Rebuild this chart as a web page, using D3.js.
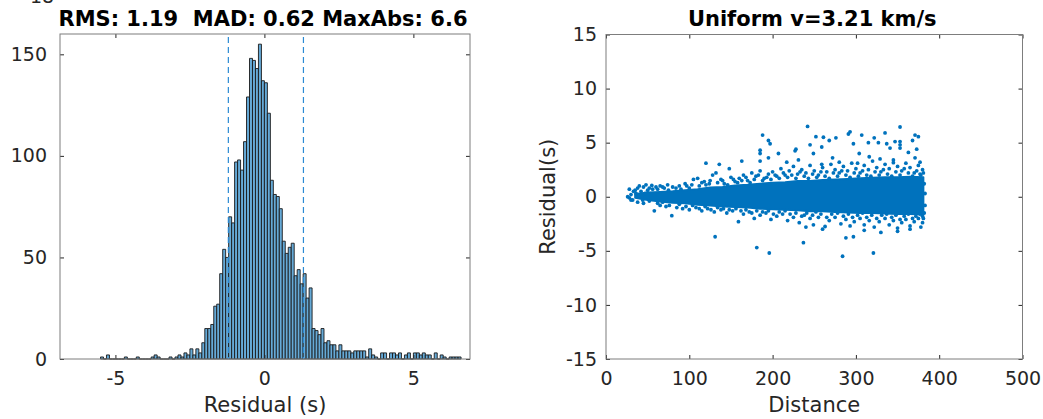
<!DOCTYPE html>
<html>
<head>
<meta charset="utf-8">
<script src="https://cdn.jsdelivr.net/npm/d3@7/dist/d3.min.js"></script>
<style>
  body { margin: 0; background: #fff; }
  text { font-family: "DejaVu Sans", sans-serif; white-space: pre; }
  .ax line { stroke: #262626; }
  .ax text { fill: #262626; font-size: 19px; }
</style>
</head>
<body>
<svg id="fig" width="1043" height="419"></svg>
<script>
// ---- data: histogram of residuals (bin width 0.1, first bin starts at -5.5)
const histStart = -5.5
const binWidth = 0.1
const histCounts = [
  1, 0, 2, 0, 0, 0, 0, 0, 1, 0,      // -5.5 .. -4.6
  0, 0, 1, 0, 0, 0, 0, 1, 2, 1,      // -4.5 .. -3.6
  0, 0, 0, 1, 0, 1, 2, 1, 3, 2,      // -3.5 .. -2.6
  5, 2, 5, 3, 8, 15, 15, 17, 26, 27, // -2.5 .. -1.6
  42, 54, 50, 70, 67, 97, 98, 93, 107, 129, // -1.5 .. -0.6
  148, 147, 143, 155, 137, 136, 121, 88, 81, 80, // -0.5 .. 0.4
  74, 58, 52, 55, 57, 41, 44, 37, 42, 30, // 0.5 .. 1.4
  35, 15, 14, 12, 15, 8, 9, 7, 7, 4,  // 1.5 .. 2.4
  7, 4, 4, 4, 3, 4, 4, 4, 4, 1,      // 2.5 .. 3.4
  5, 2, 1, 0, 3, 3, 0, 3, 3, 2,      // 3.5 .. 4.4
  3, 0, 2, 3, 0, 3, 3, 2, 3, 2,      // 4.5 .. 5.4
  2, 0, 3, 0, 2, 1, 0, 1, 1, 1,      // 5.5 .. 6.4
  1                                  // 6.5
]
const spreadLines = [-1.21, 1.31]
const histTitle = "RMS: 1.19  MAD: 0.62 MaxAbs: 6.6"
const histXTicks = [-5, 0, 5]
const histYTicks = [0, 50, 100, 150]

// ---- data: residual vs distance
const scatterTitle = "Uniform v=3.21 km/s"
const scatterXTicks = [0, 100, 200, 300, 400, 500]
const scatterYTicks = [-15, -10, -5, 0, 5, 10, 15]
// dense core of the cloud (distance, upper and lower residual edge)
const coreDist  = [35, 50, 65, 80, 95, 110, 125, 140, 155, 170, 185, 200, 215, 230, 245, 260, 275, 290, 305, 320, 335, 350, 365, 381]
const coreUpper = [0.25, 0.4, 0.45, 0.5, 0.6, 0.7, 0.85, 0.9, 1.05, 1.1, 1.2, 1.3, 1.35, 1.45, 1.45, 1.55, 1.6, 1.65, 1.7, 1.75, 1.8, 1.8, 1.85, 1.8]
const coreLower = [-0.1, -0.3, -0.45, -0.55, -0.6, -0.75, -0.8, -0.9, -0.95, -1.0, -1.1, -1.15, -1.2, -1.25, -1.35, -1.35, -1.4, -1.45, -1.5, -1.5, -1.55, -1.6, -1.6, -1.65]
// scattered points around the core edges
const fringePoints = [
  [26, 0.0], [28, 0.7], [28, -0.1], [30, 0.2], [32, -0.3], [33, 0.5], [35, 0.6], [36, 0.3], [38, 0.8], [40, 1.0],
  [42, 0.5], [44, -0.3], [45, 0.9], [47, 0.3], [48, 1.1], [50, 0.6], [52, 0.8], [55, 1.05], [56, 0.7], [60, 0.9],
  [65, 1.0], [70, 0.8], [75, 0.6], [80, 0.9], [88, 1.0], [95, 1.2], [100, 0.8], [105, 1.6], [110, 1.7], [115, 1.3],
  [120, 1.1], [125, 1.5], [128, 2.0], [132, 2.2], [138, 1.6], [142, 1.2], [150, 1.8], [155, 1.4], [160, 1.7], [165, 2.0],
  [170, 1.5], [175, 2.2], [180, 1.9], [185, 2.4], [190, 1.7], [195, 2.1], [200, 2.3], [205, 1.9], [210, 2.6], [215, 2.0],
  [220, 2.4], [225, 2.8], [230, 2.1], [235, 2.5], [240, 2.2], [245, 2.9], [250, 2.4], [255, 2.0], [260, 2.7], [265, 2.3],
  [270, 3.0], [275, 2.5], [280, 2.2], [285, 2.8], [290, 2.4], [295, 3.1], [300, 2.6], [305, 2.2], [310, 2.9], [315, 2.5],
  [320, 3.3], [325, 2.7], [330, 2.3], [335, 3.0], [340, 2.6], [345, 3.4], [350, 2.8], [355, 2.4], [360, 3.1], [365, 2.7],
  [370, 2.2], [375, 2.9], [378, 2.0], [380, 2.5],
  [62, 0.7], [68, 0.9], [74, 1.1], [84, 0.8], [90, 0.7], [97, 1.0], [103, 1.1], [112, 1.0], [118, 1.4], [124, 1.2],
  [134, 1.3], [140, 1.5], [146, 1.1], [153, 1.6], [158, 1.3], [163, 1.5], [168, 1.8], [173, 1.3], [178, 1.6], [183, 2.0],
  [188, 1.5], [193, 1.8], [198, 1.6], [203, 2.0], [208, 1.7], [213, 2.2], [218, 1.8], [223, 2.0], [228, 1.7], [233, 2.3],
  [238, 1.9], [243, 1.7], [248, 2.1], [253, 1.8], [258, 2.3], [263, 1.9], [268, 1.7], [273, 2.2], [278, 1.9], [283, 2.4],
  [288, 2.0], [293, 1.8], [298, 2.2], [303, 1.9], [308, 2.4], [313, 2.0], [318, 1.9], [323, 2.3], [328, 2.0], [333, 2.5],
  [338, 2.1], [343, 1.9], [348, 2.3], [353, 2.0], [358, 2.6], [363, 2.2], [368, 1.9], [373, 2.4], [377, 2.1], [381, 2.2],
  [30, -0.3], [38, -0.5], [45, -0.6], [52, -0.4], [58, -1.3], [65, -0.8], [72, -0.9], [79, -1.75], [85, -1.0], [92, -1.1],
  [100, -1.2], [108, -1.0], [115, -1.3], [122, -1.1], [130, -1.4], [138, -1.2], [145, -1.5], [152, -1.3], [159, -2.3], [165, -1.6],
  [172, -1.4], [178, -2.0], [185, -1.7], [192, -1.5], [198, -2.1], [205, -1.8], [212, -1.6], [218, -2.2], [225, -1.9], [232, -2.4],
  [238, -1.7], [245, -2.0], [249, -2.6], [255, -1.9], [263, -2.75], [268, -2.2], [275, -1.9], [282, -2.5], [288, -2.1], [293, -2.7],
  [298, -2.3], [305, -2.0], [310, -2.6], [316, -2.2], [322, -2.8], [328, -2.3], [335, -2.0], [340, -2.6], [345, -2.2], [350, -2.9],
  [355, -2.4], [360, -2.1], [365, -2.7], [370, -2.3], [375, -2.0], [380, -1.8], [382, -1.5], [382, 1.2], [383, 0.3], [383, -0.8],
  [62, -0.6], [68, -0.5], [76, -0.8], [88, -0.7], [96, -0.9], [104, -0.8], [112, -1.1], [119, -0.9], [126, -1.2], [134, -1.0],
  [141, -1.1], [148, -1.2], [156, -1.1], [162, -1.3], [168, -1.2], [175, -1.5], [181, -1.3], [188, -1.4], [195, -1.3], [201, -1.6],
  [208, -1.4], [215, -1.3], [221, -1.6], [228, -1.5], [235, -1.8], [241, -1.5], [248, -1.7], [252, -1.4], [258, -1.6], [265, -1.9],
  [271, -1.6], [278, -1.5], [285, -1.8], [291, -1.6], [296, -1.9], [302, -1.7], [308, -1.5], [313, -1.9], [319, -1.7], [325, -2.0],
  [331, -1.7], [337, -1.6], [343, -1.9], [348, -1.7], [353, -2.1], [358, -1.8], [363, -1.6], [368, -2.0], [372, -1.8], [377, -1.6],
  [381, -2.0]
]
const outlierPoints = [
  [120, 3.1], [136, 3.0], [148, 2.6], [163, 3.3], [185, 3.3], [185, 4.0], [185, 4.3], [188, 5.7], [195, 5.2], [197, 4.9],
  [195, 3.6], [207, 4.0], [217, 3.2], [227, 4.25], [228, 4.4], [231, 3.4], [242, 6.5], [245, 4.8], [249, 4.0], [252, 5.55],
  [259, 4.6], [259, 3.0], [261, 5.5], [268, 5.2], [272, 3.6], [276, 5.45], [280, 3.2], [291, 5.8], [293, 6.0], [297, 4.9],
  [302, 3.1], [304, 4.0], [307, 5.7], [315, 5.0], [316, 3.7], [322, 5.45], [327, 5.0], [329, 3.5], [335, 5.9], [337, 4.9],
  [341, 4.5], [345, 3.15], [347, 5.1], [353, 6.45], [353, 5.1], [353, 4.8], [353, 4.5], [363, 4.1], [368, 5.2], [371, 5.7],
  [373, 4.4], [371, 3.6], [375, 5.55], [377, 3.2],
  [131, -3.7], [181, -4.7], [196, -5.2], [237, -4.25], [284, -5.5], [288, -3.8], [297, -3.7], [321, -5.2], [350, -3.2], [260, -3.0],
  [310, -3.1], [240, -2.8], [330, -3.3], [365, -3.0], [378, -2.8], [380, -2.4]
]

const svg = d3.select("#fig")
const blue = "#0072BD"
const plain = d => String(d)

// MATLAB style box with inward ticks on all four sides
function drawFrame(xScale, yScale, xTicks, yTicks, yPad, xLabel, yLabel, title) {
  const [left, right] = xScale.range()
  const [bottom, top] = yScale.range()
  const g = svg.append("g").attr("class", "ax")

  g.append("g").attr("transform", `translate(0,${bottom})`)
    .call(d3.axisBottom(xScale).tickValues(xTicks).tickSizeInner(-4).tickSizeOuter(0).tickPadding(13).tickFormat(plain))
  g.append("g").attr("transform", `translate(0,${top})`)
    .call(d3.axisTop(xScale).tickValues(xTicks).tickSizeInner(-4).tickSizeOuter(0).tickFormat(""))
  g.append("g").attr("transform", `translate(${left},0)`)
    .call(d3.axisLeft(yScale).tickValues(yTicks).tickSizeInner(-4).tickSizeOuter(0).tickPadding(yPad).tickFormat(plain))
  g.append("g").attr("transform", `translate(${right},0)`)
    .call(d3.axisRight(yScale).tickValues(yTicks).tickSizeInner(-4).tickSizeOuter(0).tickFormat(""))
  g.selectAll(".domain").remove()
  g.selectAll("text").attr("font-family", null)

  g.append("rect")
    .attr("x", left).attr("y", top)
    .attr("width", right - left).attr("height", bottom - top)
    .attr("fill", "none").attr("stroke", "#7d7d7d").attr("stroke-width", 1)

  svg.append("text")
    .attr("x", (left + right) / 2 - 2).attr("y", 26)
    .attr("text-anchor", "middle")
    .attr("font-weight", "bold").style("font-size", "21px")
    .attr("fill", "#000")
    .text(title)
  svg.append("text")
    .attr("x", (left + right) / 2).attr("y", 412)
    .attr("text-anchor", "middle")
    .style("font-size", "21px").attr("fill", "#262626")
    .text(xLabel)
  if (yLabel) {
    svg.append("text")
      .attr("transform", `translate(555,${(top + bottom) / 2}) rotate(-90)`)
      .attr("text-anchor", "middle")
      .style("font-size", "21px").attr("fill", "#262626")
      .text(yLabel)
  }
}

// leftover text peeking in from the figure above
svg.append("text").attr("x", 30).attr("y", 3)
  .style("font-size", "19px").attr("fill", "#262626").text("18")

// ---- histogram
const hx = d3.scaleLinear().domain([-6.86, 6.9]).range([60, 470])
const hy = d3.scaleLinear().domain([0, 160]).range([359, 34])

const bins = histCounts.map((c, i) => ({ x0: histStart + i * binWidth, x1: histStart + (i + 1) * binWidth, n: c }))

svg.append("g").selectAll("path")
  .data(bins)
  .join("path")
    .attr("d", d => `M${hx(d.x0)},${hy(0)}V${hy(d.n)}H${hx(d.x1)}V${hy(0)}Z`)
    .attr("fill", "#66AAD7")
    .attr("stroke", "#1a1a1a")
    .attr("stroke-width", 0.9)

svg.append("g").selectAll("line")
  .data(spreadLines)
  .join("line")
    .attr("x1", d => hx(d)).attr("x2", d => hx(d))
    .attr("y1", hy(160) + 3).attr("y2", hy(0))
    .attr("stroke", "#2a8ad4").attr("stroke-width", 1.2)
    .attr("stroke-dasharray", "6,4")

drawFrame(hx, hy, histXTicks, histYTicks, 13, "Residual (s)", null, histTitle)

// ---- residual vs distance
const sx = d3.scaleLinear().domain([0, 500]).range([606, 1022.5])
const sy = d3.scaleLinear().domain([-15, 15]).range([359, 34.5])

const core = coreDist.map((d, i) => ({ d, up: coreUpper[i], lo: coreLower[i] }))
svg.append("path")
  .datum(core)
  .attr("d", d3.area().x(d => sx(d.d)).y0(d => sy(d.lo)).y1(d => sy(d.up)))
  .attr("fill", blue)
  .attr("stroke", blue).attr("stroke-width", 2).attr("stroke-linejoin", "round")

svg.append("g").selectAll("circle")
  .data(fringePoints.concat(outlierPoints))
  .join("circle")
    .attr("cx", d => sx(d[0]))
    .attr("cy", d => sy(d[1]))
    .attr("r", 1.9)
    .attr("fill", blue)

drawFrame(sx, sy, scatterXTicks, scatterYTicks, 9, "Distance", "Residual(s)", scatterTitle)
</script>
</body>
</html>
